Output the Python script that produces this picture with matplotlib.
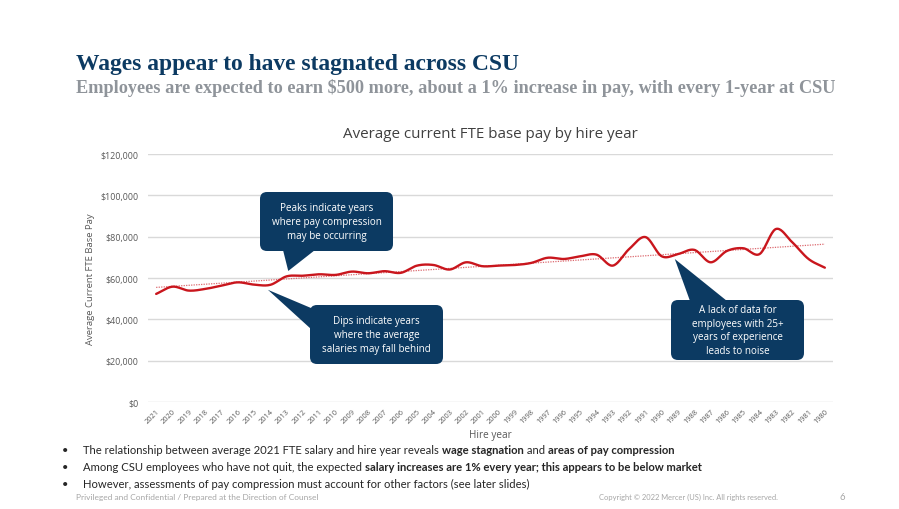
import numpy as np
import matplotlib
matplotlib.use("Agg")
import matplotlib.pyplot as plt
from matplotlib.patches import FancyBboxPatch, Polygon

# ---- data ----
hire_years = [str(y) for y in range(2021, 1979, -1)]
avg_base_pay = [
    52300, 55800, 53900, 54700, 56300, 57900, 56800, 56700, 60800, 61100,
    61800, 61500, 63100, 62300, 63300, 62500, 66000, 66300, 64100, 67600,
    65700, 66000, 66300, 67300, 69800, 69200, 70500, 71300, 66000, 74000,
    79800, 70500, 71600, 73600, 67600, 73100, 74400, 71600, 83700, 77300,
    69200, 65000,
]
y_ticks = [0, 20000, 40000, 60000, 80000, 100000, 120000]

NAVY = "#0c3a62"
RED = "#c9161d"
GREY_TXT = "#595959"

W, H = 899, 510
fig = plt.figure(figsize=(W / 100, H / 100), dpi=100)
fig.patch.set_facecolor("white")

# chart axes
ax = fig.add_axes([148 / W, 1 - 403 / H, (833 - 148) / W, (403 - 155) / H])
x = np.arange(len(avg_base_pay))
y = np.array(avg_base_pay, dtype=float)


def catmull_rom(xs, ys, n=20):
    """Smooth curve through every point (display only)."""
    px = np.concatenate([[2 * xs[0] - xs[1]], xs, [2 * xs[-1] - xs[-2]]])
    py = np.concatenate([[2 * ys[0] - ys[1]], ys, [2 * ys[-1] - ys[-2]]])
    out_x, out_y = [], []
    t = np.linspace(0, 1, n, endpoint=False)
    for i in range(1, len(px) - 2):
        p0, p1, p2, p3 = py[i - 1], py[i], py[i + 1], py[i + 2]
        q0, q1, q2, q3 = px[i - 1], px[i], px[i + 1], px[i + 2]
        for arr, a0, a1, a2, a3 in ((out_y, p0, p1, p2, p3), (out_x, q0, q1, q2, q3)):
            arr.extend(0.5 * ((2 * a1) + (-a0 + a2) * t
                              + (2 * a0 - 5 * a1 + 4 * a2 - a3) * t ** 2
                              + (-a0 + 3 * a1 - 3 * a2 + a3) * t ** 3))
    out_x.append(xs[-1])
    out_y.append(ys[-1])
    return np.array(out_x), np.array(out_y)


sx, sy = catmull_rom(x.astype(float), y)
ax.plot(sx, sy, color=RED, lw=1.7, solid_capstyle="round", zorder=3)

# linear trend
coef = np.polyfit(x, y, 1)
ax.plot(x, np.polyval(coef, x), color="#dc6a70", lw=0.9, ls=(0, (1, 1)), zorder=2)

ax.set_xlim(-0.5, len(x) - 0.5)
ax.set_ylim(0, 120000)
ax.set_yticks(y_ticks)
ax.set_yticklabels([f"${v:,.0f}" for v in y_ticks], family="Open Sans",
                   fontsize=6.4, color=GREY_TXT)
ax.set_xticks(x)
ax.set_xticklabels(hire_years, rotation=45, ha="right", rotation_mode="anchor",
                   family="Open Sans", fontsize=5.4, color=GREY_TXT)
ax.tick_params(axis="both", length=0)
ax.tick_params(axis="y", pad=7)
ax.tick_params(axis="x", pad=4)
ax.grid(axis="y", color="#d9d9d9", lw=1.0)
ax.set_axisbelow(True)
for s in ax.spines.values():
    s.set_visible(False)
ax.set_ylabel("Average Current FTE Base Pay", family="Open Sans", fontsize=6.8,
              color=GREY_TXT, labelpad=4)
ax.set_xlabel("Hire year", family="Open Sans", fontsize=7.2, color=GREY_TXT,
              labelpad=3)
ax.set_title("Average current FTE base pay by hire year", family="Open Sans",
             fontsize=10.9, color="#404040", pad=12)

# overlay in pixel coordinates (y grows downward)
ov = fig.add_axes([0, 0, 1, 1], zorder=10)
ov.set_xlim(0, W)
ov.set_ylim(H, 0)
ov.axis("off")
ov.patch.set_alpha(0)


def to_px(xv, yv):
    dx, dy = ax.transData.transform((xv, yv))
    return dx, H - dy


def callout(box, tip_data, base, text):
    x0, y0, x1, y1 = box
    ov.add_patch(FancyBboxPatch((x0, y0), x1 - x0, y1 - y0,
                                boxstyle="round,pad=0,rounding_size=7",
                                fc=NAVY, ec="none", zorder=5))
    tx, ty = to_px(*tip_data)
    ov.add_patch(Polygon([base[0], (tx, ty), base[1]], closed=True,
                         fc=NAVY, ec="none", zorder=5))
    ov.text((x0 + x1) / 2, (y0 + y1) / 2, text, ha="center", va="center",
            color="white", family="Open Sans", fontsize=7.1,
            linespacing=1.35, zorder=6)


callout((260, 193, 393, 252), (8.1, 63400), [(283, 251), (315, 251)],
        "Peaks indicate years\nwhere pay compression\nmay be occurring")
callout((310, 306, 443, 365), (6.85, 54300), [(311, 309), (311, 330)],
        "Dips indicate years\nwhere the average\nsalaries may fall behind")
callout((671, 301, 804, 361), (31.8, 69200), [(690, 302), (727, 302)],
        "A lack of data for\nemployees with 25+\nyears of experience\nleads to noise")

# headings
ov.text(76, 70, "Wages appear to have stagnated across CSU", family="Liberation Serif",
        weight="bold", fontsize=16.9, color=NAVY, va="baseline")
ov.text(76, 93, "Employees are expected to earn $500 more, about a 1% increase in pay, "
        "with every 1-year at CSU", family="Liberation Serif", weight="bold",
        fontsize=13.15, color="#8f949a", va="baseline")

# bullet lines with bold runs
bullets = [
    [("The relationship between average 2021 FTE salary and hire year reveals ", "normal"),
     ("wage stagnation", "bold"), (" and ", "normal"),
     ("areas of pay compression", "bold")],
    [("Among CSU employees who have not quit, the expected ", "normal"),
     ("salary increases are 1% every year; this appears to be below market", "bold")],
    [("However, assessments of pay compression must account for other factors "
      "(see later slides)", "normal")],
]
BFONT = dict(family="Lato", fontsize=8.1, color="#262626")
for i, runs in enumerate(bullets):
    yb = 454 + i * 17
    ov.text(62, yb, "\u2022", va="baseline", **BFONT)
    prev = None
    for txt, wt in runs:
        if prev is None:
            prev = ov.text(83, yb, txt, va="baseline", weight=wt, **BFONT)
        else:
            prev = ov.annotate(txt, xy=(1, yb), xycoords=(prev, ov.transData),
                               va="baseline", ha="left", weight=wt, **BFONT)

ov.text(76, 500, "Privileged and Confidential / Prepared at the Direction of Counsel",
        family="Lato", fontsize=6.0, color="#a6a6a6", va="baseline")
ov.text(778, 500, "Copyright \u00a9 2022 Mercer (US) Inc. All rights reserved.",
        family="Lato", fontsize=5.4, color="#a6a6a6", va="baseline", ha="right")
ov.text(842, 500, "6", family="Lato", fontsize=6.8, color="#a6a6a6", va="baseline",
        ha="center")

fig.savefig("out.png", dpi=100)
